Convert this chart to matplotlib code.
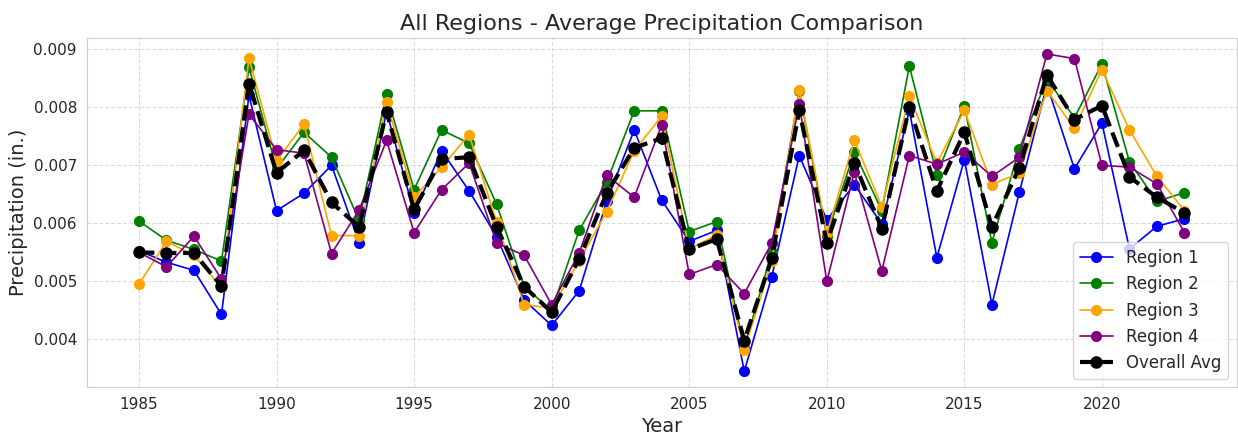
import matplotlib
matplotlib.use("Agg")
from matplotlib import pyplot as plt
import seaborn as sns

sns.set_style("whitegrid", {"grid.linestyle": "--", "axes.edgecolor": "#d0d0d0"})
plt.rcParams['font.family'] = ['DejaVu Sans']

years = list(range(1985, 2024))

region_1 = [0.00552, 0.00532, 0.00518, 0.00442, 0.00820, 0.00621, 0.00651, 0.00699, 0.00566, 0.00792,
            0.00617, 0.00724, 0.00655, 0.00576, 0.00467, 0.00423, 0.00483, 0.00637, 0.00760, 0.00639,
            0.00568, 0.00587, 0.00344, 0.00507, 0.00716, 0.00605, 0.00666, 0.00598, 0.00794, 0.00540,
            0.00709, 0.00459, 0.00653, 0.00838, 0.00693, 0.00772, 0.00555, 0.00594, 0.00607]
region_2 = [0.00603, 0.00570, 0.00554, 0.00534, 0.00868, 0.00693, 0.00756, 0.00713, 0.00604, 0.00822,
            0.00657, 0.00760, 0.00737, 0.00632, 0.00490, 0.00449, 0.00587, 0.00670, 0.00793, 0.00793,
            0.00585, 0.00602, 0.00385, 0.00549, 0.00827, 0.00578, 0.00722, 0.00621, 0.00870, 0.00683,
            0.00802, 0.00566, 0.00728, 0.00848, 0.00781, 0.00874, 0.00705, 0.00637, 0.00652]
region_3 = [0.00494, 0.00568, 0.00544, 0.00489, 0.00884, 0.00707, 0.00770, 0.00578, 0.00578, 0.00808,
            0.00644, 0.00696, 0.00752, 0.00601, 0.00459, 0.00453, 0.00535, 0.00619, 0.00724, 0.00784,
            0.00555, 0.00579, 0.00381, 0.00534, 0.00829, 0.00582, 0.00742, 0.00628, 0.00818, 0.00703,
            0.00794, 0.00666, 0.00686, 0.00828, 0.00763, 0.00864, 0.00760, 0.00680, 0.00621]
region_4 = [0.00549, 0.00524, 0.00577, 0.00503, 0.00787, 0.00726, 0.00720, 0.00547, 0.00622, 0.00742,
            0.00583, 0.00657, 0.00703, 0.00565, 0.00544, 0.00459, 0.00548, 0.00682, 0.00644, 0.00769,
            0.00511, 0.00528, 0.00478, 0.00565, 0.00804, 0.00499, 0.00687, 0.00517, 0.00716, 0.00701,
            0.00722, 0.00680, 0.00713, 0.00891, 0.00883, 0.00699, 0.00696, 0.00667, 0.00583]
overall_avg = [0.00549, 0.00548, 0.00548, 0.00491, 0.00840, 0.00686, 0.00725, 0.00635, 0.00593, 0.00791,
               0.00623, 0.00710, 0.00713, 0.00593, 0.00490, 0.00446, 0.00538, 0.00651, 0.00729, 0.00746,
               0.00554, 0.00572, 0.00397, 0.00539, 0.00794, 0.00566, 0.00703, 0.00590, 0.00799, 0.00655,
               0.00756, 0.00593, 0.00695, 0.00855, 0.00778, 0.00802, 0.00679, 0.00644, 0.00617]

series = [("Region 1", region_1, "blue"),
          ("Region 2", region_2, "green"),
          ("Region 3", region_3, "orange"),
          ("Region 4", region_4, "purple")]

fig, ax = plt.subplots(figsize=(12.38, 4.38), dpi=100)
fig.subplots_adjust(left=0.070, right=0.999, bottom=0.116, top=0.913)

for name, vals, color in series:
    ax.plot(years, vals, marker="o", color=color, linewidth=1.2, markersize=7, label=name)

ax.plot(years, overall_avg, marker="o", color="black", linestyle="--", linewidth=3,
        markersize=8, label="Overall Avg")

ax.set_title("All Regions - Average Precipitation Comparison", fontsize=16)
ax.set_xlabel("Year", fontsize=14)
ax.set_ylabel("Precipitation (in.)", fontsize=14)
ax.tick_params(labelsize=11)
ax.grid(True, linestyle="--", alpha=0.7)
ax.legend(loc="lower right", fontsize=12)

plt.savefig("out.png")
